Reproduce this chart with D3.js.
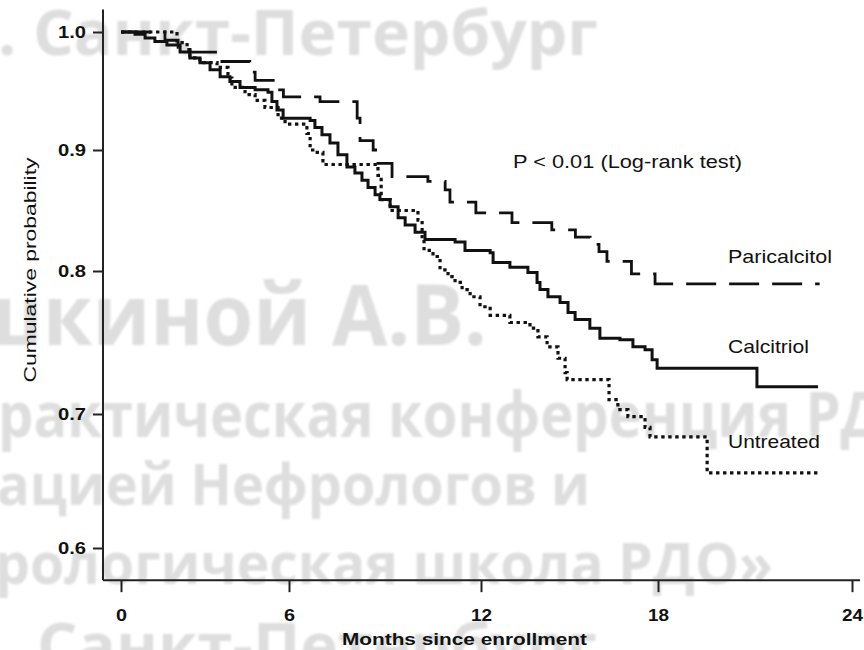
<!DOCTYPE html>
<html>
<head>
<meta charset="utf-8">
<script src="https://cdn.jsdelivr.net/npm/d3@7"></script>
<style>
  html, body { margin: 0; padding: 0; background: #fff; }
  svg { display: block; }
</style>
</head>
<body>
<svg id="chart" width="864" height="650"></svg>
<script>
// ---- data ---------------------------------------------------------------
const monthTicks = [0, 6, 12, 18, 24];
const probTicks = [0.6, 0.7, 0.8, 0.9, 1.0];

const seriesNames = ["Paricalcitol", "Calcitriol", "Untreated"];

// Kaplan–Meier steps: [month of event, cumulative probability after it]
const paricalcitol = [
  [0, 1.0], [1.57, 0.993], [2.04, 0.987], [2.46, 0.983], [3.43, 0.975],
  [4.6, 0.966], [4.79, 0.959], [5.6, 0.951], [5.8, 0.945], [6.97, 0.941],
  [8.13, 0.927], [8.22, 0.908], [8.63, 0.900], [8.78, 0.889], [9.22, 0.878],
  [10.34, 0.874], [10.88, 0.867], [11.03, 0.857], [11.84, 0.848], [13.05, 0.840],
  [14.4, 0.834], [15.2, 0.828], [15.7, 0.822], [16.0, 0.816], [16.27, 0.808],
  [17.1, 0.798], [17.9, 0.791]
];
const calcitriol = [
  [0, 1.0], [0.5, 0.998], [0.86, 0.995], [1.21, 0.992], [1.64, 0.989],
  [2.11, 0.983], [2.46, 0.978], [2.82, 0.974], [3.18, 0.968], [3.54, 0.962],
  [3.89, 0.958], [4.25, 0.953], [4.79, 0.951], [5.25, 0.949], [5.39, 0.941],
  [5.57, 0.934], [5.79, 0.927], [6.66, 0.925], [6.81, 0.919], [7.03, 0.913],
  [7.28, 0.906], [7.53, 0.896], [7.81, 0.886], [8.06, 0.881], [8.28, 0.875],
  [8.47, 0.869], [8.69, 0.863], [8.84, 0.859], [9.16, 0.853], [9.41, 0.844],
  [9.63, 0.838], [9.94, 0.832], [10.25, 0.826], [11.19, 0.824], [11.5, 0.817],
  [12.31, 0.815], [12.41, 0.807], [12.98, 0.803], [13.59, 0.799], [13.9, 0.792],
  [14.0, 0.787], [14.27, 0.782], [14.68, 0.778], [14.95, 0.771], [15.19, 0.766],
  [15.69, 0.760], [16.03, 0.753], [16.71, 0.752], [17.15, 0.747], [17.56, 0.745],
  [17.8, 0.738], [17.97, 0.732], [21.06, 0.719]
];
const untreated = [
  [0, 1.0], [2.0, 0.991], [2.36, 0.985], [2.46, 0.978], [2.82, 0.974],
  [3.43, 0.970], [3.82, 0.961], [3.96, 0.953], [4.43, 0.947], [4.79, 0.942],
  [5.14, 0.936], [5.61, 0.927], [5.86, 0.922], [6.56, 0.914], [6.66, 0.900],
  [6.88, 0.898], [7.06, 0.888], [8.78, 0.879], [8.88, 0.859], [9.16, 0.850],
  [10.03, 0.842], [10.16, 0.826], [10.22, 0.817], [10.5, 0.812], [10.72, 0.801],
  [10.97, 0.796], [11.19, 0.792], [11.41, 0.787], [11.66, 0.782], [11.97, 0.775],
  [12.31, 0.769], [12.98, 0.764], [13.66, 0.760], [13.93, 0.754], [14.24, 0.747],
  [14.61, 0.739], [14.85, 0.729], [14.92, 0.724], [16.34, 0.710], [16.64, 0.703],
  [16.98, 0.698], [17.56, 0.690], [17.73, 0.683], [19.52, 0.656]
];
// last month of follow-up for each group
const followUpEnd = [23.0, 22.95, 22.95];

const testLabel = "P < 0.01 (Log-rank test)";
const xTitle = "Months since enrollment";
const yTitle = "Cumulative probability";

const watermarkLines = [
  ". Санкт-Петербург",
  "шкиной А.В.",
  "рактическая конференция РДО",
  "ацией Нефрологов и",
  "рологическая школа РДО»",
  "Санкт-Петербург"
];

// ---- drawing ------------------------------------------------------------
const svg = d3.select("#chart");
const FONT = "'Liberation Sans', Arial, sans-serif";

const x = d3.scaleLinear().domain(monthTicks).range([121, 289, 481, 658, 852]);
const y = d3.scaleLinear().domain(probTicks).range([548, 414, 271, 150, 32]);

// soft grey watermark behind the plot
const defs = svg.append("defs");
defs.append("filter").attr("id", "soft")
  .append("feGaussianBlur").attr("stdDeviation", 0.9);

const wmLayout = [
  { x: -2,  y: 55,  size: 62, len: 600 },
  { x: -35, y: 345, size: 84, len: 522 },
  { x: -2,  y: 437, size: 62, len: 930 },
  { x: -3,  y: 505, size: 58, len: 593 },
  { x: -5,  y: 584, size: 58, len: 778 },
  { x: 37,  y: 668, size: 62, len: 560 }
];
svg.append("g").attr("filter", "url(#soft)")
  .selectAll("text").data(watermarkLines).join("text")
  .attr("x", (d, i) => wmLayout[i].x)
  .attr("y", (d, i) => wmLayout[i].y)
  .attr("font-size", (d, i) => wmLayout[i].size)
  .attr("textLength", (d, i) => wmLayout[i].len)
  .attr("lengthAdjust", "spacingAndGlyphs")
  .attr("font-family", "'Open Sans', 'DejaVu Sans', sans-serif")
  .attr("font-weight", 700)
  .attr("fill", "#dedede")
  .text(d => d);

// axes
const xLo = -0.643, xHi = 24.25, yLo = 0.576, yHi = 1.019;
const axisColor = "#222";

svg.append("line")
  .attr("x1", x(xLo)).attr("x2", x(xHi))
  .attr("y1", y(yLo)).attr("y2", y(yLo))
  .attr("stroke", axisColor).attr("stroke-width", 2);
svg.append("line")
  .attr("x1", x(xLo)).attr("x2", x(xLo))
  .attr("y1", y(yLo)).attr("y2", y(yHi))
  .attr("stroke", axisColor).attr("stroke-width", 2);

const gx = svg.append("g").attr("transform", `translate(0,${y(yLo)})`)
  .call(d3.axisBottom(x).tickValues(monthTicks).tickSize(12).tickPadding(12).tickFormat(d3.format("d")));
gx.select(".domain").remove();
gx.selectAll(".tick line").attr("stroke", axisColor).attr("stroke-width", 2);
gx.selectAll(".tick text")
  .attr("font-family", FONT).attr("font-size", 16).attr("font-weight", 700)
  .attr("fill", "#111").attr("dy", "1.05em")
  .attr("textLength", d => String(d).length > 1 ? 21 : 11)
  .attr("lengthAdjust", "spacingAndGlyphs");

const gy = svg.append("g").attr("transform", `translate(${x(xLo)},0)`)
  .call(d3.axisLeft(y).tickValues(probTicks).tickSize(10).tickPadding(7).tickFormat(d3.format(".1f")));
gy.select(".domain").remove();
gy.selectAll(".tick line").attr("stroke", axisColor).attr("stroke-width", 2);
gy.selectAll(".tick text")
  .attr("font-family", FONT).attr("font-size", 16).attr("font-weight", 700)
  .attr("fill", "#111")
  .attr("textLength", 28).attr("lengthAdjust", "spacingAndGlyphs");

// axis titles
svg.append("text")
  .attr("x", 342).attr("y", 645)
  .attr("font-family", FONT).attr("font-size", 16).attr("font-weight", 700)
  .attr("fill", "#111")
  .attr("textLength", 245).attr("lengthAdjust", "spacingAndGlyphs")
  .text(xTitle);
svg.append("text")
  .attr("transform", "translate(36,270) rotate(-90)")
  .attr("text-anchor", "middle")
  .attr("font-family", FONT).attr("font-size", 17)
  .attr("fill", "#111")
  .attr("textLength", 225).attr("lengthAdjust", "spacingAndGlyphs")
  .text(yTitle);

// survival curves
const curves = [paricalcitol, calcitriol, untreated];
const styles = [
  { dash: "30,13", width: 2.8 },
  { dash: null, width: 3 },
  { dash: "3.4,3.6", width: 3.2 }
];
const step = d3.line().x(d => x(d[0])).y(d => y(d[1])).curve(d3.curveStepAfter);

svg.append("g").selectAll("path").data(curves).join("path")
  .attr("d", (d, i) => step(d.concat([[followUpEnd[i], d[d.length - 1][1]]])))
  .attr("fill", "none")
  .attr("stroke", "#111")
  .attr("stroke-width", (d, i) => styles[i].width)
  .attr("stroke-dasharray", (d, i) => styles[i].dash)
  .attr("stroke-linejoin", "miter");

// annotations
svg.append("text")
  .attr("x", 513).attr("y", 168)
  .attr("font-family", FONT).attr("font-size", 18).attr("fill", "#111")
  .attr("textLength", 229).attr("lengthAdjust", "spacingAndGlyphs")
  .text(testLabel);

const labelPos = [
  { y: 263, len: 104 },
  { y: 353, len: 81 },
  { y: 448, len: 92 }
];
svg.append("g").selectAll("text").data(seriesNames).join("text")
  .attr("x", 728)
  .attr("y", (d, i) => labelPos[i].y)
  .attr("font-family", FONT).attr("font-size", 19).attr("fill", "#111")
  .attr("textLength", (d, i) => labelPos[i].len)
  .attr("lengthAdjust", "spacingAndGlyphs")
  .text(d => d);
</script>
</body>
</html>
